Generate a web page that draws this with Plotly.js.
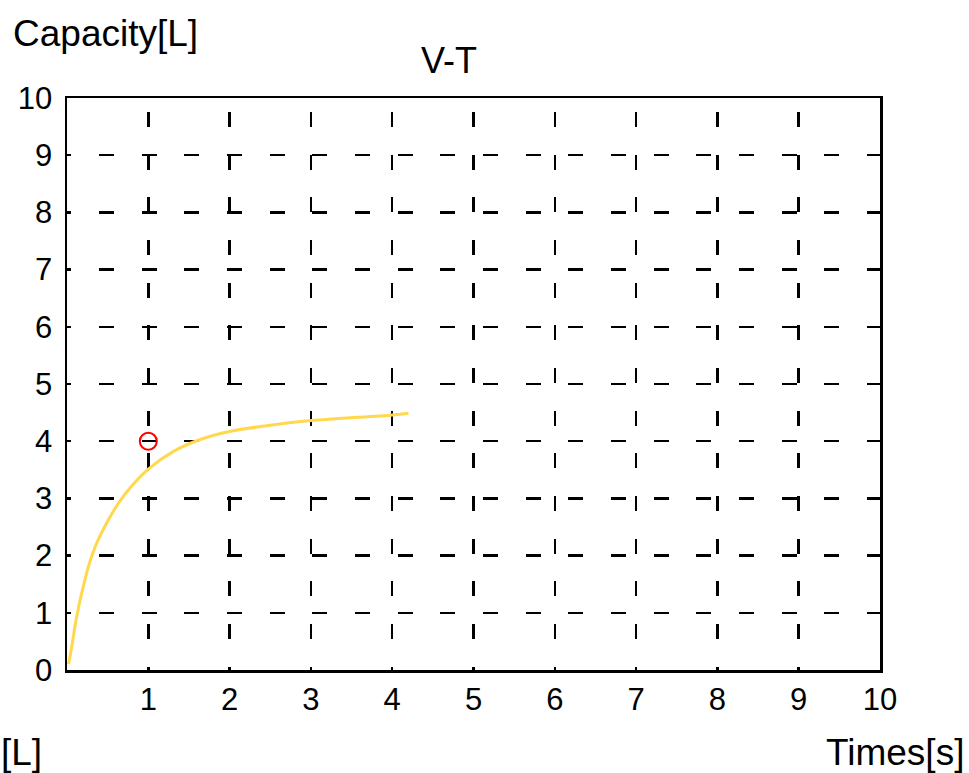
<!DOCTYPE html>
<html>
<head>
<meta charset="utf-8">
<script src="https://cdn.plot.ly/plotly-3.0.1.min.js"></script>
<style>
  html, body { margin: 0; padding: 0; background: #ffffff; }
  #chart { width: 969px; height: 773px; }
</style>
</head>
<body>
<div id="chart"></div>
<script>
// Curve
var timeS = [0.02, 0.06, 0.10, 0.14, 0.19, 0.27, 0.36, 0.50, 0.64, 0.78, 1.00, 1.32, 1.64, 2.00, 2.50, 3.00, 4.00, 4.20];
var capacityL = [0.10, 0.42, 0.78, 1.08, 1.40, 1.84, 2.20, 2.60, 2.93, 3.19, 3.51, 3.83, 4.03, 4.17, 4.28, 4.36, 4.46, 4.49];

// Red marker point
var markerT = [1];
var markerV = [4];

// Tick values / labels
var xTickVals = [1, 2, 3, 4, 5, 6, 7, 8, 9, 10];
var xTickText = ['1', '2', '3', '4', '5', '6', '7', '8', '9', '10'];
var yTickVals = [0, 1, 2, 3, 4, 5, 6, 7, 8, 9, 10];
var yTickText = ['0', '1', '2', '3', '4', '5', '6', '7', '8', '9', '10'];

var chartTitle = 'V-T';
var yLabel = 'Capacity[L]';
var xLabel = 'Times[s]';
var extraLabel = '[L]';

var FONT = 'Liberation Sans, Arial, Helvetica, sans-serif';

var traces = [
  {
    x: timeS, y: capacityL,
    type: 'scatter', mode: 'lines',
    line: { color: '#FFD84D', width: 3, shape: 'spline', smoothing: 1 },
    hoverinfo: 'skip', showlegend: false
  },
  {
    x: markerT, y: markerV,
    type: 'scatter', mode: 'markers',
    marker: { symbol: 'circle-open', size: 17, color: '#FF0000', line: { color: '#FF0000', width: 2 } },
    hoverinfo: 'skip', showlegend: false
  }
];

var layout = {
  width: 969, height: 773,
  margin: { l: 67, r: 89, t: 98, b: 103, pad: 0 },
  paper_bgcolor: '#ffffff', plot_bgcolor: '#ffffff',
  font: { family: FONT, color: '#000000', size: 31 },
  showlegend: false,
  title: {
    text: chartTitle,
    font: { family: FONT, size: 36, color: '#000000' },
    xref: 'container', yref: 'container',
    x: 449 / 969, xanchor: 'center',
    y: 1 - 60 / 773, yanchor: 'middle'
  },
  xaxis: {
    range: [0, 10], fixedrange: true,
    tickmode: 'array', tickvals: xTickVals, ticktext: xTickText,
    ticks: '', ticklabelstandoff: 0,
    tickfont: { family: FONT, size: 31, color: '#000000' },
    showline: true, linecolor: '#000000', linewidth: 2.5, mirror: true,
    showgrid: true, gridcolor: '#000000', gridwidth: 2.5,
    griddash: '0px,14px,15px,13.67px',
    zeroline: false
  },
  yaxis: {
    range: [0, 10], fixedrange: true,
    tickmode: 'array', tickvals: yTickVals, ticktext: yTickText,
    ticks: '', ticklabelstandoff: 6,
    tickfont: { family: FONT, size: 31, color: '#000000' },
    showline: true, linecolor: '#000000', linewidth: 2.5, mirror: true,
    showgrid: true, gridcolor: '#000000', gridwidth: 2.5,
    griddash: '4.3px,27.7px,10.67px,0px',
    zeroline: false
  },
  annotations: [
    {
      text: yLabel, xref: 'paper', yref: 'paper',
      x: (11 - 67) / 813, xanchor: 'left',
      y: (670 - 33) / 572, yanchor: 'middle',
      showarrow: false, font: { family: FONT, size: 37, color: '#000000' }
    },
    {
      text: xLabel, xref: 'paper', yref: 'paper',
      x: (966 - 67) / 813, xanchor: 'right',
      y: (670 - 752) / 572, yanchor: 'middle',
      showarrow: false, font: { family: FONT, size: 37, color: '#000000' }
    },
    {
      text: extraLabel, xref: 'paper', yref: 'paper',
      x: (-1 - 67) / 813, xanchor: 'left',
      y: (670 - 752) / 572, yanchor: 'middle',
      showarrow: false, font: { family: FONT, size: 37, color: '#000000' }
    }
  ]
};

Plotly.newPlot('chart', traces, layout, { displayModeBar: false, staticPlot: true });
</script>
</body>
</html>
